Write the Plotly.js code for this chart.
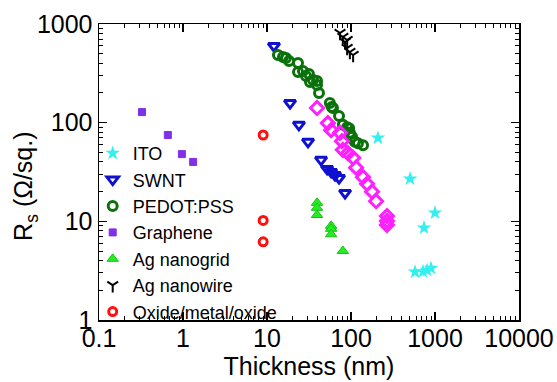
<!DOCTYPE html>
<html>
<head>
<meta charset="utf-8">
<script src="https://cdn.plot.ly/plotly-3.0.1.min.js"></script>
<style>html,body{margin:0;padding:0;background:#fff;}#chart{width:557px;height:382px;}</style>
</head>
<body>
<div id="chart"></div>
<script>
const itoX = [209, 504, 1000, 740, 578, 720, 803, 896];
const itoY = [70, 27, 12.2, 8.6, 3.07, 3.1, 3.2, 3.35];
const swntX = [12.1, 18.8, 24, 30.8, 44, 52, 58, 64.5, 72, 85];
const swntY = [598, 158, 95, 64, 42, 34, 31.7, 29.5, 27.5, 19.4];
const pedotX = [13.5, 15.5, 16.8, 18.3, 23.4, 23.4, 26.8, 29.1, 31.6, 32.5, 35.3, 39.4, 39.4, 41.6, 56, 59, 61, 72, 80, 90, 95, 97, 103, 111, 121, 139];
const pedotY = [485, 463, 452, 422, 403, 326, 334, 297, 311, 258, 271, 264, 241, 200, 158, 144, 141, 117, 95, 90, 88, 79, 72, 64, 62, 59];
const grapheneX = [0.325, 0.66, 0.97, 1.32];
const grapheneY = [128, 75, 48, 40];
const gridX = [39.4, 39.4, 39.4, 58, 58, 58, 80];
const gridY = [15.4, 13.7, 11.6, 9.0, 8.4, 7.4, 5.0];
const wireX = [74, 80, 85, 90, 90, 97, 106];
const wireY = [811, 738, 657, 688, 571, 520, 485];
const omoX = [9, 9, 9];
const omoY = [75, 10.2, 6.2];
const otherX = [39.4, 53, 58, 74, 78, 80, 92, 106, 115, 139, 155, 178, 199, 268, 268, 268];
const otherY = [141, 99, 84, 79, 65, 53, 49, 44, 35, 28, 24, 20, 16, 11.3, 10.1, 9.2];
const names = ['ITO', 'SWNT', 'PEDOT:PSS', 'Graphene', 'Ag nanogrid', 'Ag nanowire', 'Oxide/metal/oxide'];

function tr(x, y, name, symbol, color, size, lw, lcolor) {
  return {x: x, y: y, name: name, type: 'scatter', mode: 'markers',
    marker: {symbol: symbol, color: color, size: size, line: {width: lw, color: lcolor || color}}};
}
const data = [
  tr(itoX, itoY, names[0], 'star', '#33f0f0', 11, 0, null),
  tr(swntX, swntY, names[1], 'triangle-down-open', '#1010d0', 10, 3, null),
  tr(pedotX, pedotY, names[2], 'circle-open', '#0b720b', 9, 3, null),
  tr(grapheneX, grapheneY, names[3], 'square', '#8030e8', 7, 1, '#8030e8'),
  tr(gridX, gridY, names[4], 'triangle-up', '#22ee22', 10, 1, '#18c018'),
  tr(wireX, wireY, names[5], 'y-down-open', '#000000', 9, 2, null),
  tr(omoX, omoY, names[6], 'circle-open', '#ff1010', 8, 3, null),
  Object.assign(tr(otherX, otherY, 'other', 'diamond-open', '#ff20ff', 10, 3, null), {showlegend: false})
];

const axisCommon = {
  type: 'log', showgrid: false, zeroline: false, showline: true, linecolor: '#000', linewidth: 1.5,
  mirror: 'ticks', ticks: 'inside', ticklen: 8, tickwidth: 1.2, tickcolor: '#000',
  dtick: 1, tickformat: '~g', ticklabeloverflow: 'allow',
  minor: {dtick: 'D1', ticks: 'inside', ticklen: 4, tickwidth: 1, tickcolor: '#000', showgrid: false},
  tickfont: {family: 'Liberation Sans, Arial, sans-serif', size: 25, color: '#000'}
};

const layout = {
  width: 557, height: 382,
  margin: {l: 99, r: 38, t: 24, b: 62},
  paper_bgcolor: '#fff', plot_bgcolor: '#fff',
  font: {family: 'Liberation Sans, Arial, sans-serif', color: '#000'},
  showlegend: true,
  legend: {x: -0.015, y: 0.625, xanchor: 'left', yanchor: 'top', bgcolor: 'rgba(0,0,0,0)',
    font: {size: 18, color: '#000'}, traceorder: 'normal', itemwidth: 30},
  xaxis: Object.assign({}, axisCommon, {range: [-1, 4], ticklabelstandoff: -5,
    title: {text: 'Thickness (nm)', font: {size: 25, color: '#000'}, standoff: 6}}),
  yaxis: Object.assign({}, axisCommon, {range: [0, 3]}),
  annotations: [{xref: 'paper', yref: 'paper', x: -0.176, y: 0.45, xanchor: 'center', yanchor: 'middle',
    text: 'R<sub>s</sub> (Ω/sq.)', textangle: -90, showarrow: false, font: {size: 25, color: '#000'}}]
};

Plotly.newPlot('chart', data, layout, {displayModeBar: false, staticPlot: true});
</script>
</body>
</html>
